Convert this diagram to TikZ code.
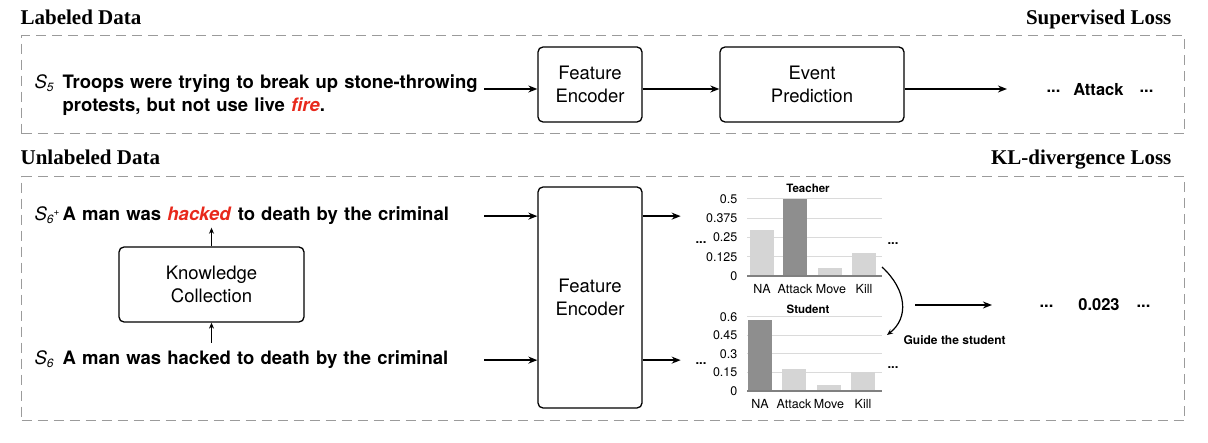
\documentclass[tikz,border=0pt]{standalone}
\usepackage{fontspec}
\setmainfont{Liberation Serif}
\setsansfont{TeX Gyre Heros}
\usetikzlibrary{arrows.meta, positioning}
\definecolor{cred}{HTML}{E8291C}
\definecolor{cframe}{HTML}{9B9B9B}
\definecolor{clight}{HTML}{D5D5D5}
\definecolor{cdark}{HTML}{8E8E8E}
\definecolor{cgrid}{HTML}{DADADA}
\definecolor{caxis}{HTML}{808080}
\newcommand{\lowidx}[1]{\raisebox{-3pt}{\fontsize{12}{12}\selectfont #1}}
\newcommand{\highidx}[1]{\raisebox{5pt}{\fontsize{10}{10}\selectfont #1}}
\newcommand{\redword}[1]{\textcolor{cred}{\textit{#1}}}
\tikzset{
  every picture/.style={font=\sffamily, line width=1.3pt},
  section/.style={draw=cframe, line width=1.4pt, dash pattern=on 10pt off 6pt, anchor=north west, inner sep=0pt},
  box/.style={draw, rounded corners=5pt, align=center, inner sep=0pt, font=\sffamily\fontsize{18.5}{23}\selectfont},
  arrow/.style={-{Stealth[length=9pt, width=7pt]}, line width=1.8pt},
  uparrow/.style={-{Stealth[length=6pt, width=5pt]}, line width=1.3pt},
  title/.style={font=\rmfamily\bfseries\fontsize{21}{25}\selectfont, inner sep=0pt},
  sname/.style={font=\sffamily\itshape\fontsize{18.5}{22.5}\selectfont, inner sep=0pt, anchor=base west},
  sent/.style={font=\sffamily\bfseries\fontsize{18.5}{22.5}\selectfont, align=left, text width=421pt, inner sep=0pt, anchor=base west},
  result/.style={font=\sffamily\bfseries\fontsize{16.5}{20}\selectfont, inner sep=0pt},
  axlabel/.style={font=\sffamily\fontsize{12.5}{14}\selectfont, inner sep=0pt},
  ctitle/.style={font=\sffamily\bfseries\fontsize{11.5}{13}\selectfont, inner sep=0pt},
  more/.style={font=\sffamily\bfseries\fontsize{13}{14}\selectfont, inner sep=0pt, anchor=base},
  guide/.style={font=\sffamily\bfseries\fontsize{12}{14}\selectfont, inner sep=0pt},
  gridline/.style={draw=cgrid, line width=1pt},
}

\begin{document}
\begin{tikzpicture}[x=1pt, y=-1pt]
  \useasboundingbox (0,0) rectangle (1208,443);
  % labeled data
  \node[title, anchor=base west] (labt) at (20,25) {Labeled Data};
  \node[title, anchor=base east] (supt) at (1172,25) {Supervised Loss};
  \node[section, minimum width=1163pt, minimum height=98pt] (labf) at (21,35) {};
  \node[sname] (s5t) at (34,89) {S\lowidx{5}};
  \node[sent] (s5) at (62,89) {Troops were trying to break up stone-throwing\\protests, but not use live \redword{fire}.};
  \node[box, minimum width=104pt, minimum height=75pt] (fe1) at (590,84.5) {Feature\\Encoder};
  \node[box, minimum width=184pt, minimum height=75pt] (ep) at (812,84.5) {Event\\Prediction};
  \node[result, anchor=base] (pred) at (1100,96) {\raisebox{3pt}{...}\hspace{13pt}Attack\hspace{16pt}\raisebox{3pt}{...}};
  \draw[arrow] (s5.base east) -- (s5.base east -| fe1.west);
  \draw[arrow] (fe1.east |- s5.base east) -- (ep.west |- s5.base east);
  \draw[arrow, shorten >=39pt] (ep.east |- s5.base east) -- (pred.west |- s5.base east);
  % unlabeled data
  \node[title, anchor=base west] (unlt) at (20,165) {Unlabeled Data};
  \node[title, anchor=base east] (klt) at (1172,165) {KL-divergence Loss};
  \node[section, minimum width=1163pt, minimum height=244pt] (unlf) at (21,176) {};
  \node[sname] (s6pt) at (34,221) {S\lowidx{6}\highidx{+}};
  \node[sent] (s6p) at (62,221) {A man was \redword{hacked} to death by the criminal};
  \node[sname] (s6t) at (34,365) {S\lowidx{6}};
  \node[sent] (s6) at (62,365) {A man was hacked to death by the criminal};
  \node[box, minimum width=185pt, minimum height=75pt] (kc) at (211.5,284.5) {Knowledge\\Collection};
  \node[box, minimum width=104pt, minimum height=221pt] (fe2) at (590,297.5) {Feature\\Encoder};
  \draw[uparrow, shorten <=8pt] (s6.north -| kc.south) -- (kc.south);
  \draw[uparrow, shorten >=2pt] (kc.north) -- (kc.north |- s6p.south);
  \draw[arrow] (s6p.east) -- (s6p.east -| fe2.west);
  \draw[arrow] (s6.east) -- (s6.east -| fe2.west);
  \draw[arrow] (fe2.east |- s6p.east) -- ++(38,0) coordinate (tin);
  \draw[arrow] (fe2.east |- s6.east) -- ++(38,0) coordinate (sin);
  % teacher chart
  \foreach \k in {1,...,4} \draw[gridline] (747,276-19.25*\k) -- (882,276-19.25*\k);
  \foreach \x/\v/\c in {762/0.3/clight, 795/0.5/cdark, 830/0.05/clight, 864/0.15/clight}
    \fill[\c] (\x-12,276) rectangle (\x+12,276-154*\v);
  \draw[caxis, line width=1.2pt] (747,276) -- (882,276);
  \foreach \t [count=\k from 0] in {0,0.125,0.25,0.375,0.5}
    \node[axlabel, anchor=east] (ty\k) at (738,276-19.25*\k) {\t};
  \foreach \n/\x [count=\k] in {NA/762, Attack/795, Move/831, Kill/864}
    \node[axlabel] (tx\k) at (\x,289) {\n};
  \node[ctitle] (tch) at (808,188) {Teacher};
  % student chart
  \foreach \k in {1,...,4} \draw[gridline] (747,391-18.5*\k) -- (882,391-18.5*\k);
  \foreach \x/\v/\c in {760/0.575/cdark, 794/0.18/clight, 829/0.05/clight, 863/0.155/clight}
    \fill[\c] (\x-12,391) rectangle (\x+12,391-123.3*\v);
  \draw[caxis, line width=1.2pt] (747,391) -- (882,391);
  \foreach \t [count=\k from 0] in {0,0.15,0.3,0.45,0.6}
    \node[axlabel, anchor=east] (sy\k) at (738,391-18.5*\k) {\t};
  \foreach \n/\x [count=\k] in {NA/760, Attack/794, Move/829, Kill/863}
    \node[axlabel] (sx\k) at (\x,404) {\n};
  \node[ctitle] (stu) at (808,309) {Student};
  \node[more] (tdl) at (701,244) {...};
  \node[more] (tdr) at (893,245) {...};
  \node[more] (sdl) at (701,365) {...};
  \node[more] (sdr) at (893,369) {...};
  % guide and kl output
  \coordinate (gs) at (882,267);
  \coordinate (ge) at (887,335);
  \draw[-{Stealth[length=6pt, width=5pt]}, line width=1.2pt] (gs) .. controls (907,290) and (909,318) .. (ge);
  \node[guide, anchor=west] (gd) at (903,340) {Guide the student};
  \coordinate (kin) at (915,305);
  \node[result] (kdiv) at (1095,305) {\raisebox{3pt}{...}\hspace{25pt}0.023\hspace{17pt}\raisebox{3pt}{...}};
  \draw[arrow, shorten >=47pt] (kin) -- (kdiv.west |- kin);
\end{tikzpicture}
\end{document}
